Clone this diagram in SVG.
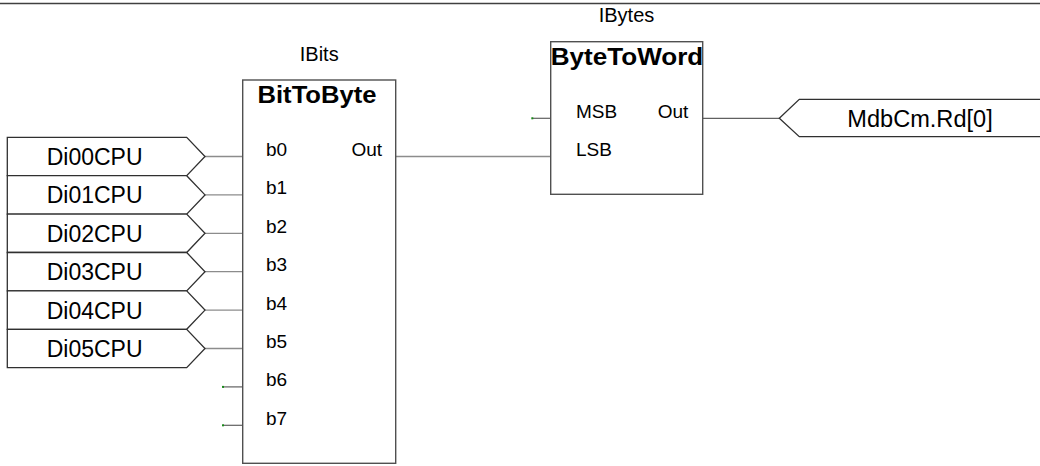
<svg xmlns="http://www.w3.org/2000/svg" width="1040" height="466" viewBox="0 0 1040 466">
<style>
text{font-family:"Liberation Sans",Arial,sans-serif;fill:#000}
.tag{fill:#fff;stroke:#303030;stroke-width:1.3}
.box{fill:#fff;stroke:#505050;stroke-width:1.4}
.title{font-weight:bold;font-size:23px;text-anchor:middle}
.inst{font-size:20px;text-anchor:middle}
.pin{font-size:19px}
.pinr{font-size:19px;text-anchor:end}
.tt{font-size:23px}
.wire{stroke:#8c8c8c;stroke-width:1.3;fill:none}
.stub{stroke:#606060;stroke-width:1.2;fill:none}
.dot{fill:#1a8a1a}
</style>
<line x1="0" y1="3.5" x2="1040" y2="3.5" stroke="#404040" stroke-width="1.3"/>

<g id="connectors">
<line class="wire" x1="205" y1="156.5" x2="242.7" y2="156.5"/>
<line class="wire" x1="205" y1="194.9" x2="242.7" y2="194.9"/>
<line class="wire" x1="205" y1="233.3" x2="242.7" y2="233.3"/>
<line class="wire" x1="205" y1="271.7" x2="242.7" y2="271.7"/>
<line class="wire" x1="205" y1="310.1" x2="242.7" y2="310.1"/>
<line class="wire" x1="205" y1="348.5" x2="242.7" y2="348.5"/>
<line class="stub" x1="223" y1="386.9" x2="242.7" y2="386.9"/>
<line class="stub" x1="223" y1="425.3" x2="242.7" y2="425.3"/>
<rect class="dot" x="222" y="385.9" width="2" height="2"/>
<rect class="dot" x="222" y="424.3" width="2" height="2"/>
<line class="wire" x1="395.7" y1="156.5" x2="550.7" y2="156.5"/>
<line class="stub" x1="532.3" y1="118.3" x2="550.7" y2="118.3"/>
<rect class="dot" x="531.3" y="117.3" width="2" height="2"/>
<line class="stub" x1="702.7" y1="118.3" x2="779.3" y2="118.3"/>
</g>

<g id="Di00CPU">
<polygon class="tag" points="7.3,137.3 186.7,137.3 205,156.5 186.7,175.7 7.3,175.7"/>
<text class="tt" x="46.7" y="165">Di00CPU</text>
</g>
<g id="Di01CPU">
<polygon class="tag" points="7.3,175.7 186.7,175.7 205,194.9 186.7,214.1 7.3,214.1"/>
<text class="tt" x="46.7" y="203.4">Di01CPU</text>
</g>
<g id="Di02CPU">
<polygon class="tag" points="7.3,214.1 186.7,214.1 205,233.3 186.7,252.5 7.3,252.5"/>
<text class="tt" x="46.7" y="241.8">Di02CPU</text>
</g>
<g id="Di03CPU">
<polygon class="tag" points="7.3,252.5 186.7,252.5 205,271.7 186.7,290.9 7.3,290.9"/>
<text class="tt" x="46.7" y="280.2">Di03CPU</text>
</g>
<g id="Di04CPU">
<polygon class="tag" points="7.3,290.9 186.7,290.9 205,310.1 186.7,329.3 7.3,329.3"/>
<text class="tt" x="46.7" y="318.6">Di04CPU</text>
</g>
<g id="Di05CPU">
<polygon class="tag" points="7.3,329.3 186.7,329.3 205,348.5 186.7,367.7 7.3,367.7"/>
<text class="tt" x="46.7" y="357">Di05CPU</text>
</g>

<g id="IBits">
<text class="inst" x="319.2" y="61">IBits</text>
<rect class="box" x="242.7" y="80" width="153" height="383.3"/>
<text class="title" x="317" y="103.3" font-size="22" textLength="119" lengthAdjust="spacingAndGlyphs">BitToByte</text>
<text class="pin" x="266" y="156">b0</text>
<text class="pinr" x="382" y="156">Out</text>
<text class="pin" x="266" y="194.4">b1</text>
<text class="pin" x="266" y="232.8">b2</text>
<text class="pin" x="266" y="271.2">b3</text>
<text class="pin" x="266" y="309.6">b4</text>
<text class="pin" x="266" y="348">b5</text>
<text class="pin" x="266" y="386.4">b6</text>
<text class="pin" x="266" y="424.8">b7</text>
</g>

<g id="IBytes">
<text class="inst" x="626.5" y="21.7">IBytes</text>
<rect class="box" x="550.7" y="41.7" width="152" height="152.6"/>
<text class="title" x="627" y="65" textLength="152.6" lengthAdjust="spacingAndGlyphs">ByteToWord</text>
<text class="pin" x="576" y="118.3" font-size="20">MSB</text>
<text class="pinr" x="688.3" y="118.3" font-size="20">Out</text>
<text class="pin" x="576" y="156" font-size="20">LSB</text>
</g>

<g id="MdbCm.Rd0">
<polyline class="tag" points="1041,99.3 799.3,99.3 779.3,118.3 799.3,136.7 1041,136.7"/>
<text class="tt" x="847.3" y="127.3" textLength="145.4" lengthAdjust="spacingAndGlyphs">MdbCm.Rd[0]</text>
</g>
</svg>
